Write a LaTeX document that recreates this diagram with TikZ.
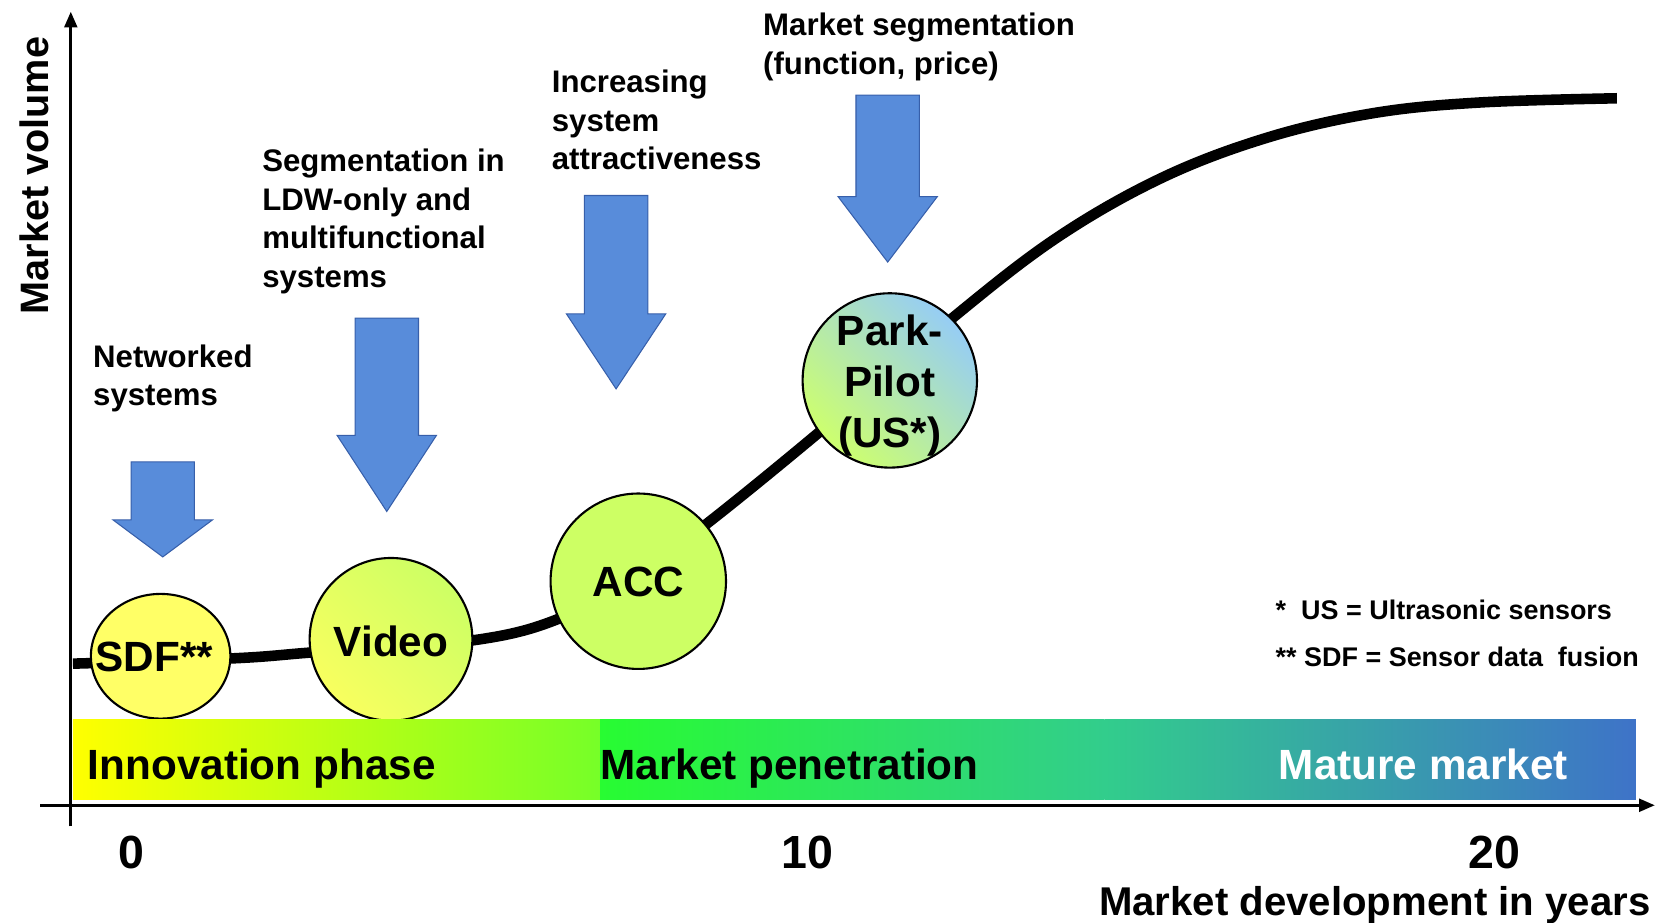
\documentclass[tikz,border=0pt]{standalone}
\usepackage{fontspec}
\setmainfont{Liberation Sans}
\usetikzlibrary{arrows.meta, shapes.geometric}

\definecolor{arrowblue}{RGB}{88,140,218}
\definecolor{arrowedge}{RGB}{55,95,170}
\definecolor{bandyellow}{RGB}{255,255,0}
\definecolor{bandlime}{RGB}{118,255,40}
\definecolor{bandgreen}{RGB}{40,252,50}
\definecolor{bandteal}{RGB}{50,205,140}
\definecolor{bandblue}{RGB}{62,115,200}
\definecolor{sdffill}{RGB}{255,255,102}
\definecolor{videolow}{RGB}{248,255,95}
\definecolor{videohigh}{RGB}{205,255,100}
\definecolor{accfill}{RGB}{205,255,100}
\definecolor{parklow}{RGB}{205,255,110}
\definecolor{parkhigh}{RGB}{150,205,245}

\begin{document}
\begin{tikzpicture}[
    x=1pt, y=-1pt,
    axis/.style={line width=3pt, -{Triangle[length=15pt,width=12pt]}},
    phase/.style={draw=black, line width=2pt, inner sep=0pt, align=center,
                  font=\fontsize{40}{48}\selectfont\bfseries},
    note/.style={anchor=north west, inner sep=0pt, align=left,
                 font=\fontsize{29.5}{36.5}\selectfont\bfseries},
    blockarrow/.style={fill=arrowblue, draw=arrowedge, line width=1pt},
    bandtext/.style={anchor=base west, inner sep=0pt, font=\fontsize{40}{48}\selectfont\bfseries},
    tick/.style={anchor=base, inner sep=0pt, font=\fontsize{44}{52}\selectfont\bfseries},
    footnote/.style={anchor=west, inner sep=0pt, font=\fontsize{25.5}{30}\selectfont\bfseries}
]
   \useasboundingbox (0,0) rectangle (1568,873);

   % S-curve of the market volume
   \draw[line width=10pt] plot[smooth, tension=0.6] coordinates {
      (69,628) (220,623) (300,617) (447,606) (530,585) (600,545) (667,497)
      (780,405) (900,302) (1000,225) (1100,168) (1200,130) (1300,107)
      (1400,97) (1530,93)};

   % Systems on the curve
   \node[phase, ellipse, fill=sdffill, minimum width=132pt, minimum height=118pt] (sdf) at (152,621) {};
   \node[font=\fontsize{40}{48}\selectfont\bfseries, inner sep=0pt] (sdftext) at (146,622) {SDF**};
   \node[phase, circle, minimum size=154pt, bottom color=videolow, top color=videohigh,
         shading angle=-45] (video) at (370,605) {};
   \node[font=\fontsize{40}{48}\selectfont\bfseries, inner sep=0pt] (videotext) at (370,607) {Video};
   \node[phase, circle, minimum size=166pt, fill=accfill] (acc) at (604,550) {};
   \node[font=\fontsize{40}{48}\selectfont\bfseries, inner sep=0pt] (acctext) at (604,551) {ACC};
   \node[phase, circle, minimum size=165pt, bottom color=parklow, top color=parkhigh,
         shading angle=-45] (park) at (842,360) {};
   \node[font=\fontsize{40}{48}\selectfont\bfseries, inner sep=0pt, align=center]
      (parktext) at (842,365) {Park-\\Pilot\\(US*)};

   % Phases
   \shade[left color=bandyellow, right color=bandlime] (69,681) rectangle (568,757);
   \shade[left color=bandgreen, right color=bandteal] (568,681) rectangle (1045,757);
   \shade[left color=bandteal, right color=bandblue] (1045,681) rectangle (1548,757);
   \node[bandtext] (innov) at (83,738) {Innovation phase};
   \node[bandtext] (penet) at (568,738) {Market penetration};
   \node[bandtext, text=white] (mature) at (1210,738) {Mature market};

   % Block arrows
   \foreach \xa/\ya/\yb/\yc in {154/437/492/527, 366/301/412/484,
                                583/185/297/368, 840/90/186/248}
      \draw[blockarrow] (\xa-30,\ya) -- (\xa+30,\ya) -- (\xa+30,\yb) -- (\xa+47,\yb)
         -- (\xa,\yc) -- (\xa-47,\yb) -- (\xa-30,\yb) -- cycle;

   % Drivers
   \node[note] (netw) at (88,326) {Networked\\systems};
   \node[note] (segm) at (248,141) {Segmentation in\\LDW-only and\\multifunctional\\systems};
   \node[note] (incr) at (522,66) {Increasing\\system\\attractiveness};
   \node[note] (mseg) at (722,12) {Market segmentation\\(function, price)};

   % Footnotes
   \node[footnote] (fn1) at (1207,577) {*\ \ US = Ultrasonic sensors};
   \node[footnote] (fn2) at (1207,622) {** SDF = Sensor data\ \ fusion};

   % Axes
   \coordinate (ybot) at (67,782);
   \coordinate (ytop) at (67,11);
   \coordinate (xleft) at (38,762);
   \coordinate (xright) at (1566,762);
   \draw[axis] (ybot) -- (ytop);
   \draw[axis] (xleft) -- (xright);

   \node[tick] (t0) at (124,822) {0};
   \node[tick] (t10) at (764,822) {10};
   \node[tick] (t20) at (1414,822) {20};
   \node[anchor=base east, inner sep=0pt, font=\fontsize{38}{44}\selectfont\bfseries]
      (xlab) at (1562,866) {Market development in years};
   \node[rotate=90, anchor=base, inner sep=0pt, font=\fontsize{37.5}{44}\selectfont\bfseries]
      (ylab) at (46,166) {Market volume};

\end{tikzpicture}
\end{document}
